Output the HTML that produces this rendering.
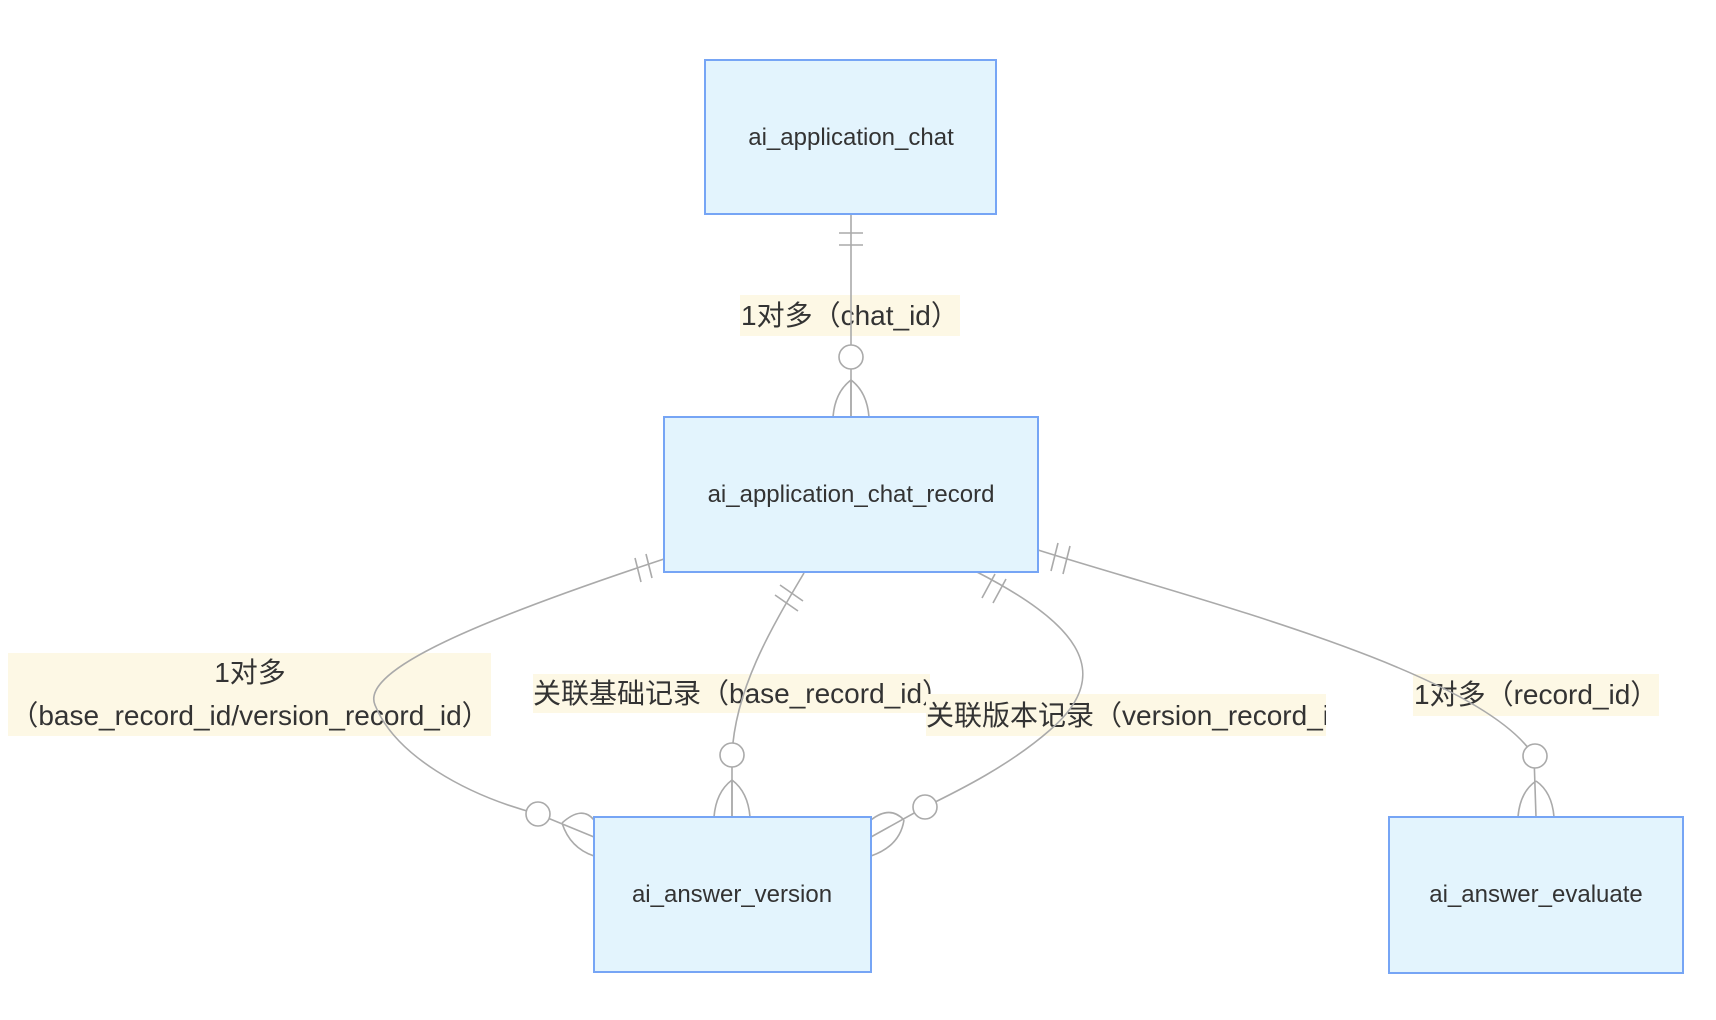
<!DOCTYPE html>
<html><head><meta charset="utf-8"><style>
body{margin:0;background:#fff;}
svg{display:block}
.box{fill:#e3f4fd;stroke:#76a5f5;stroke-width:2}
.e{fill:none;stroke:#aaa;stroke-width:1.6}
.c{fill:#fff;stroke:#aaa;stroke-width:1.6}
.t{font-family:"Liberation Sans","Noto Sans CJK SC",sans-serif;font-size:24px;fill:#333;text-anchor:middle}
.l{font-family:"Liberation Sans","Noto Sans CJK SC",sans-serif;font-size:28px;fill:#333}
.lb{fill:#fdf8e5}
</style></head><body>
<svg width="1716" height="1020" viewBox="0 0 1716 1020">
<rect class="lb" x="740" y="295" width="220" height="41"/>
<text class="l" x="741" y="325">1对多（chat_id）</text>
<rect class="lb" x="8" y="653" width="483" height="83"/>
<text class="l" x="250" y="682" text-anchor="middle">1对多</text>
<text class="l" x="250" y="725" text-anchor="middle">（base_record_id/version_record_id）</text>
<rect class="lb" x="533" y="674" width="397" height="39"/>
<text class="l" x="533" y="703">关联基础记录（base_record_id）</text>
<svg x="926" y="694" width="400" height="42"><rect class="lb" x="0" y="0" width="400" height="42"/>
<text class="l" x="0" y="31">关联版本记录（version_record_id）</text></svg>
<rect class="lb" x="1413" y="674" width="246" height="42"/>
<text class="l" x="1414" y="704">1对多（record_id）</text>

<path class="e" d="M851 214 L851 417"/>
<path class="e" d="M839 233 H863 M839 245 H863"/>
<path class="e" d="M851 380 V417 M851 380 Q835 392 833 417 M851 380 Q867 392 869 417"/>
<circle class="c" cx="851" cy="357" r="12"/>

<path class="e" d="M664 559 C480 620 360 670 375 705 C395 755 465 795 538 814 L594 837"/>
<path class="e" d="M635 558 L641 582 M646 554 L652 578"/>
<path class="e" d="M562 823 Q582 805 594 820 M562 823 Q570 848 594 856"/>
<circle class="c" cx="538" cy="814" r="12"/>

<path class="e" d="M804 573 C770 630 735 690 732 755 L732 817"/>
<path class="e" d="M780 585 L803 601 M775 595 L798 611"/>
<path class="e" d="M732 780 V817 M732 780 Q716 792 714 817 M732 780 Q748 792 750 817"/>
<circle class="c" cx="732" cy="755" r="12"/>

<path class="e" d="M977 572 C1070 620 1120 670 1050 730 C1010 765 960 790 925 807 L871 837"/>
<path class="e" d="M995 574 L982 598 M1006 579 L993 603"/>
<path class="e" d="M904 820 Q890 805 871 820 M904 820 Q900 846 871 856"/>
<circle class="c" cx="925" cy="807" r="12"/>

<path class="e" d="M1038 550 C1190 598 1480 670 1534 756 L1536 817"/>
<path class="e" d="M1058 543 L1051 571 M1070 546 L1063 574"/>
<path class="e" d="M1536 781 Q1520 792 1518 817 M1536 781 Q1552 792 1554 817"/>
<circle class="c" cx="1535" cy="756" r="12"/>

<rect class="box" x="705" y="60" width="291" height="154"/>
<text class="t" x="851" y="145">ai_application_chat</text>
<rect class="box" x="664" y="417" width="374" height="155"/>
<text class="t" x="851" y="502">ai_application_chat_record</text>
<rect class="box" x="594" y="817" width="277" height="155"/>
<text class="t" x="732" y="902">ai_answer_version</text>
<rect class="box" x="1389" y="817" width="294" height="156"/>
<text class="t" x="1536" y="902">ai_answer_evaluate</text>
</svg>
</body></html>
